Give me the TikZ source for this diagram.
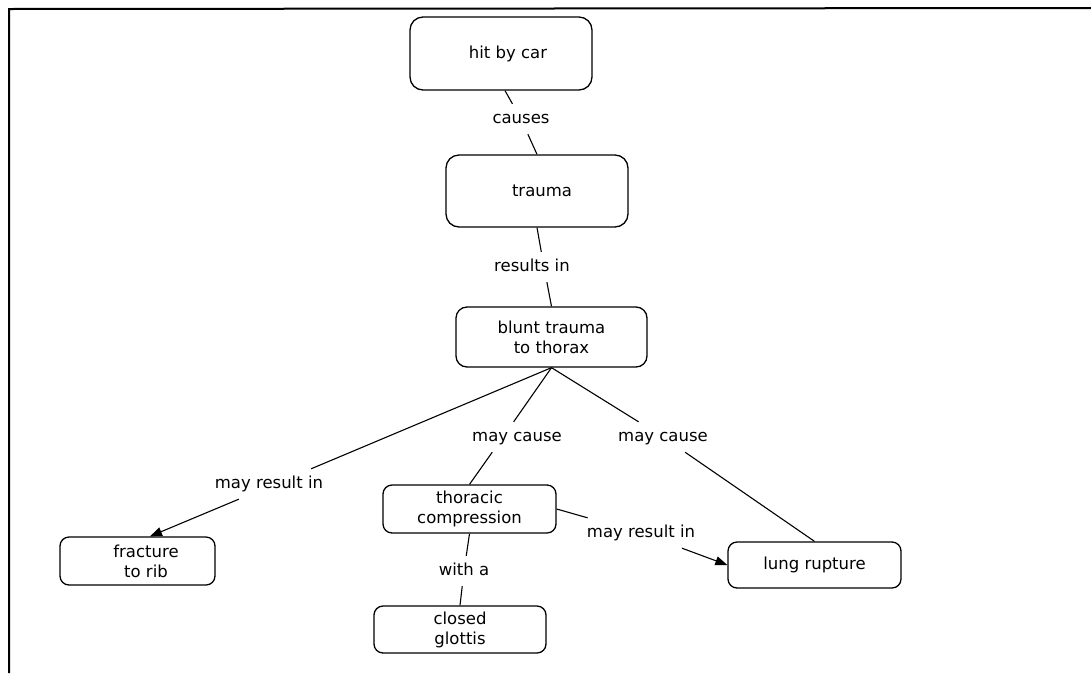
\documentclass[tikz,border=0pt]{standalone}
\usepackage{fontspec}
\setmainfont{DejaVu Sans}
\usetikzlibrary{arrows.meta}
\begin{document}
\begin{tikzpicture}[x=1pt,y=-1pt,
  concept/.style={draw, line width=1.3pt, rounded corners=9pt, align=center,
    font=\fontsize{16.5}{20}\selectfont, inner sep=2pt},
  bigconcept/.style={concept, rounded corners=13pt},
  linkl/.style={font=\fontsize{16.5}{20}\selectfont, text height=12pt, text depth=3pt,
    inner xsep=4pt, inner ysep=7.5pt},
  conn/.style={line width=1.1pt},
  arr/.style={conn, -{Triangle[length=12pt,width=9pt]}}]
\useasboundingbox (0,0) rectangle (1091,673);
% frame
\coordinate (frR) at (1091,8);
\coordinate (frC) at (9,9);
\coordinate (frB) at (9,673);
\draw[line width=2pt] (frR) -- (frC) -- (frB);

% concepts
\node[bigconcept, minimum width=182pt, minimum height=73pt] (hit) at (501,53.5) {\hspace*{14pt}hit by car};
\node[bigconcept, minimum width=182pt, minimum height=72pt] (trauma) at (537,191) {\hspace*{10pt}trauma};
\node[concept, minimum width=191pt, minimum height=60pt, rounded corners=11pt] (blunt) at (551.5,337) {blunt trauma\\to thorax};
\node[concept, minimum width=155pt, minimum height=48pt] (fract) at (137.5,561) {\hspace*{17pt}fracture\\\hspace*{17pt}to rib};
\node[concept, minimum width=173pt, minimum height=48pt] (thor) at (469.5,509) {thoracic\\compression};
\node[concept, minimum width=172pt, minimum height=47pt] (glot) at (460,629.5) {closed\\glottis};
\node[concept, minimum width=173pt, minimum height=46pt] (lung) at (814.5,565) {lung rupture};

% linking phrases
\node[linkl] (causes) at (521,119) {causes};
\node[linkl] (resin) at (544,267) {\hspace*{-24pt}results in};
\node[linkl] (mcL) at (503,437) {\hspace*{28pt}may cause};
\node[linkl] (mcR) at (663,437) {may cause};
\node[linkl] (mrL) at (275,484) {\hspace*{-12pt}may result in};
\node[linkl] (mrR) at (641,533) {may result in};
\node[linkl] (witha) at (464,571) {with a};

% connectors
\draw[conn] ([xshift=4pt]hit.south) -- (causes) -- (trauma.north);
\draw[conn] (trauma.south) -- (resin) -- (blunt.north);
\draw[conn] (blunt.south) -- (mrL);
\draw[arr] (mrL) -- ([xshift=12.5pt]fract.north);
\draw[conn] (blunt.south) -- (mcL) -- (thor.north);
\draw[conn] (blunt.south) -- (mcR) -- (lung.north);
\draw[conn] (thor.east) -- (mrR);
\draw[arr] (mrR) -- (lung.west);
\draw[conn] (thor.south) -- (witha) -- (glot.north);
\end{tikzpicture}
\end{document}
